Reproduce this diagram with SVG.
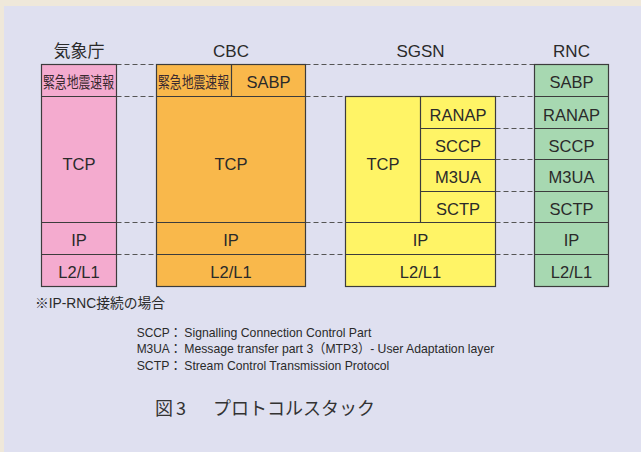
<svg xmlns="http://www.w3.org/2000/svg" width="641" height="452" viewBox="0 0 641 452">
<style>
.bg{fill:#efe8da}
.panel{fill:#dfe0f0}
.box{stroke:#3c3c3c;stroke-width:1.2}
.pink{fill:#f4abcf}
.orange{fill:#f9b84b}
.yellow{fill:#fff466}
.green{fill:#a7d8b1}
.div{stroke:#3c3c3c;stroke-width:1.2;fill:none}
.dash{stroke:#555;stroke-width:1.2;stroke-dasharray:5 3;fill:none}
.hd{font-family:"Liberation Sans","Noto Sans CJK JP",sans-serif;font-size:17px;fill:#2a2a2a;text-anchor:middle}
.cl{font-family:"Liberation Sans","Noto Sans CJK JP",sans-serif;font-size:16.5px;fill:#2a2a2a;text-anchor:middle}
.jp{font-family:"Noto Sans CJK JP",sans-serif;font-size:16px;fill:#3a2a30}
.note{font-family:"Liberation Sans","Noto Sans CJK JP",sans-serif;font-size:14px;fill:#2a2a2a}
.lg{font-family:"Liberation Sans","Noto Sans CJK JP",sans-serif;font-size:13px;fill:#2a2a2a}
.cap{font-family:"Noto Sans CJK JP",sans-serif;font-size:18px;fill:#333}
</style>
<rect class="bg" x="0" y="0" width="641" height="452"/>
<rect class="panel" x="4" y="6" width="637" height="446"/>

<g id="connectors">
<path class="dash" d="M116.5 64.5H156.5M305.5 64.5H534.5"/>
<path class="dash" d="M116.5 96.5H156.5M305.5 96.5H345.5M495.5 96.5H534.5"/>
<path class="dash" d="M495.5 128.5H534.5M495.5 159.5H534.5M495.5 191.5H534.5"/>
<path class="dash" d="M116.5 222.5H156.5M305.5 222.5H345.5M495.5 222.5H534.5"/>
<path class="dash" d="M116.5 254.5H156.5M305.5 254.5H345.5M495.5 254.5H534.5"/>
</g>

<g id="kishocho">
<text class="hd" x="79" y="57">気象庁</text>
<rect class="box pink" x="41.5" y="64.5" width="75" height="222"/>
<path class="div" d="M41.5 96.5H116.5M41.5 222.5H116.5M41.5 254.5H116.5"/>
<text class="jp" transform="translate(43 87.5) scale(0.74 1)">緊急地震速報</text>
<text class="cl" x="79" y="170">TCP</text>
<text class="cl" x="79" y="246">IP</text>
<text class="cl" x="79" y="278">L2/L1</text>
</g>

<g id="cbc">
<text class="hd" x="231" y="57">CBC</text>
<rect class="box orange" x="156.5" y="64.5" width="149" height="222"/>
<path class="div" d="M156.5 96.5H305.5M156.5 222.5H305.5M156.5 254.5H305.5M231.5 64.5V96.5"/>
<text class="jp" transform="translate(158 87.5) scale(0.74 1)">緊急地震速報</text>
<text class="cl" x="268.5" y="88">SABP</text>
<text class="cl" x="231" y="170">TCP</text>
<text class="cl" x="231" y="246">IP</text>
<text class="cl" x="231" y="278">L2/L1</text>
</g>

<g id="sgsn">
<text class="hd" x="420.5" y="57">SGSN</text>
<rect class="box yellow" x="345.5" y="96.5" width="150" height="190"/>
<path class="div" d="M420.5 96.5V222.5M420.5 128.5H495.5M420.5 159.5H495.5M420.5 191.5H495.5M345.5 222.5H495.5M345.5 254.5H495.5"/>
<text class="cl" x="383" y="170">TCP</text>
<text class="cl" x="458" y="120.5">RANAP</text>
<text class="cl" x="458" y="151.5">SCCP</text>
<text class="cl" x="458" y="183.3">M3UA</text>
<text class="cl" x="458" y="215">SCTP</text>
<text class="cl" x="420.5" y="246">IP</text>
<text class="cl" x="420.5" y="278">L2/L1</text>
</g>

<g id="rnc">
<text class="hd" x="571.5" y="57">RNC</text>
<rect class="box green" x="534.5" y="64.5" width="74" height="222"/>
<path class="div" d="M534.5 96.5H608.5M534.5 128.5H608.5M534.5 159.5H608.5M534.5 191.5H608.5M534.5 222.5H608.5M534.5 254.5H608.5"/>
<text class="cl" x="571.5" y="88">SABP</text>
<text class="cl" x="571.5" y="120.5">RANAP</text>
<text class="cl" x="571.5" y="151.5">SCCP</text>
<text class="cl" x="571.5" y="183.3">M3UA</text>
<text class="cl" x="571.5" y="215">SCTP</text>
<text class="cl" x="571.5" y="246">IP</text>
<text class="cl" x="571.5" y="278">L2/L1</text>
</g>

<g id="notes">
<text class="note" x="35" y="308" textLength="130" lengthAdjust="spacingAndGlyphs">※IP-RNC接続の場合</text>
<text class="lg" x="136.7" y="336.7" textLength="45" lengthAdjust="spacingAndGlyphs">SCCP：</text>
<text class="lg" x="184.3" y="336.7" textLength="187" lengthAdjust="spacingAndGlyphs">Signalling Connection Control Part</text>
<text class="lg" x="136.7" y="353" textLength="45" lengthAdjust="spacingAndGlyphs">M3UA：</text>
<text class="lg" x="184.3" y="353" textLength="310" lengthAdjust="spacingAndGlyphs">Message transfer part 3（MTP3）- User Adaptation layer</text>
<text class="lg" x="136.7" y="369.5" textLength="45" lengthAdjust="spacingAndGlyphs">SCTP：</text>
<text class="lg" x="184.3" y="369.5" textLength="205" lengthAdjust="spacingAndGlyphs">Stream Control Transmission Protocol</text>
<text class="cap" x="155" y="415">図</text>
<text class="cap" x="176" y="415">3</text>
<text class="cap" x="213" y="415" textLength="162" lengthAdjust="spacingAndGlyphs">プロトコルスタック</text>
</g>
</svg>
